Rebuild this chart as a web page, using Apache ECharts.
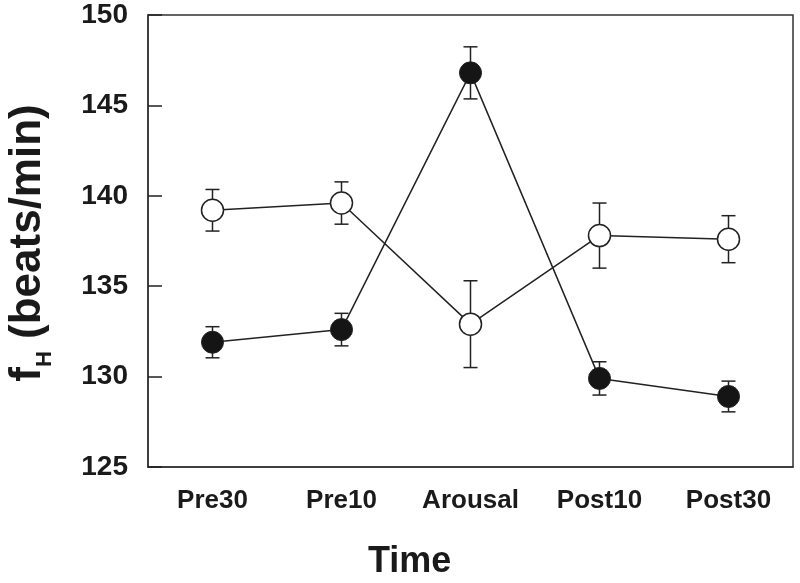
<!DOCTYPE html>
<html>
<head>
<meta charset="utf-8">
<script src="https://cdn.jsdelivr.net/npm/echarts@6/dist/echarts.min.js"></script>
<style>html,body{margin:0;padding:0;background:#fff}#c{width:800px;height:583px}</style>
</head>
<body>
<div id="c"></div>
<script>
var categories = ['Pre30', 'Pre10', 'Arousal', 'Post10', 'Post30'];
var openMean = [139.2, 139.6, 132.9, 137.8, 137.6];
var openErr = [1.15, 1.17, 2.4, 1.8, 1.3];
var filledMean = [131.9, 132.6, 146.8, 129.9, 128.9];
var filledErr = [0.86, 0.9, 1.44, 0.92, 0.85];
var yTicks = [125, 130, 135, 140, 145, 150];

var ink = '#222';
function errData(m, e) {
  return m.map(function (v, i) { return [i, v - e[i], v + e[i]]; });
}
function renderErr(params, api) {
  var x = api.value(0);
  var lo = api.coord([x, api.value(1)]);
  var hi = api.coord([x, api.value(2)]);
  var w = 7;
  var st = { stroke: ink, lineWidth: 1.5 };
  return {
    type: 'group',
    children: [
      { type: 'line', shape: { x1: hi[0], y1: hi[1], x2: lo[0], y2: lo[1] }, style: st },
      { type: 'line', shape: { x1: hi[0] - w, y1: hi[1], x2: hi[0] + w, y2: hi[1] }, style: st },
      { type: 'line', shape: { x1: lo[0] - w, y1: lo[1], x2: lo[0] + w, y2: lo[1] }, style: st }
    ]
  };
}

var chart = echarts.init(document.getElementById('c'));
var fontFam = '"Liberation Sans", Arial, sans-serif';
chart.setOption({
  animation: false,
  backgroundColor: '#fff',
  grid: { left: 148, right: 7, top: 15, bottom: 116, show: true, borderColor: '#333', borderWidth: 1.5 },
  xAxis: {
    type: 'category',
    data: categories,
    boundaryGap: true,
    axisLine: { lineStyle: { color: '#333', width: 1.5 } },
    axisTick: { inside: true, alignWithLabel: true, length: 13, lineStyle: { color: ink, width: 1.5 } },
    axisLabel: { margin: 21, color: '#1a1a1a', fontSize: 26, fontWeight: 'bold', fontFamily: fontFam },
    splitLine: { show: false }
  },
  yAxis: {
    type: 'value',
    min: yTicks[0],
    max: yTicks[yTicks.length - 1],
    interval: 5,
    axisLine: { show: true, lineStyle: { color: '#333', width: 1.5 } },
    axisTick: { show: true, inside: true, length: 14, lineStyle: { color: ink, width: 1.5 } },
    axisLabel: { margin: 20, color: '#1a1a1a', fontSize: 28, fontWeight: 'bold', fontFamily: fontFam },
    splitLine: { show: false }
  },
  graphic: [
    {
      type: 'text', left: 368, top: 544,
      style: { text: 'Time', fontSize: 36, fontWeight: 'bold', fontFamily: fontFam, fill: '#1a1a1a' }
    },
    {
      type: 'text', x: 28, y: 243, rotation: Math.PI / 2,
      style: {
        text: '{a|f}{s|H}{a| (beats/min)}',
        textAlign: 'center', textVerticalAlign: 'middle',
        fill: '#1a1a1a',
        rich: {
          a: { fontSize: 44, fontWeight: 'bold', fontFamily: fontFam, fill: '#1a1a1a', verticalAlign: 'bottom' },
          s: { fontSize: 22, fontWeight: 'bold', fontFamily: fontFam, fill: '#1a1a1a', verticalAlign: 'bottom', padding: [0, 0, -6, 0] }
        }
      }
    }
  ],
  series: [
    { type: 'custom', name: 'openErr', data: errData(openMean, openErr), renderItem: renderErr, z: 1 },
    { type: 'custom', name: 'filledErr', data: errData(filledMean, filledErr), renderItem: renderErr, z: 1 },
    {
      type: 'line', name: 'open', data: openMean, z: 3,
      symbol: 'circle', symbolSize: 22, showAllSymbol: true,
      lineStyle: { color: ink, width: 1.5 },
      itemStyle: { color: '#fff', borderColor: ink, borderWidth: 1.5 }
    },
    {
      type: 'line', name: 'filled', data: filledMean, z: 3,
      symbol: 'circle', symbolSize: 22, showAllSymbol: true,
      lineStyle: { color: ink, width: 1.5 },
      itemStyle: { color: '#151515', borderColor: ink, borderWidth: 1 }
    }
  ]
});
</script>
</body>
</html>
